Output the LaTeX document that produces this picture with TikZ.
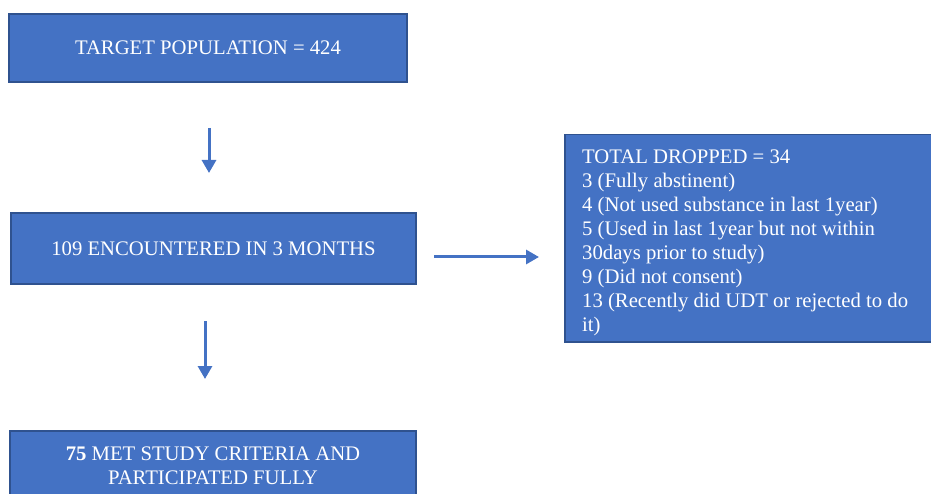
\documentclass[tikz,border=0pt]{standalone}
\usepackage{fontspec}
\setmainfont{Liberation Serif}
\usetikzlibrary{arrows.meta}
\definecolor{boxfill}{HTML}{4472C4}
\definecolor{boxline}{HTML}{2F528F}
\definecolor{arrowc}{HTML}{4472C4}
\tikzset{
  flowbox/.style={draw=boxline, line width=1.5pt, fill=boxfill, text=white,
    font=\fontsize{20.7}{24}\selectfont, inner sep=0pt, align=center},
  flowtext/.style={text=white, font=\fontsize{20.7}{24}\selectfont, inner sep=0pt, align=left},
  flowarrow/.style={draw=arrowc, line width=3pt,
    -{Triangle[length=13pt,width=14pt]}}
}
\begin{document}
\begin{tikzpicture}[x=1pt,y=-1pt]
\useasboundingbox (0,0) rectangle (931,494);
\clip (0,0) rectangle (931,494);
\node[flowbox, minimum width=398pt, minimum height=68pt] (target) at (208,48) {TARGET POPULATION = 424};
\node[flowbox, minimum width=405pt, minimum height=71pt] (enc) at (213.5,248.5) {109 ENCOUNTERED IN 3 MONTHS};
\node[flowbox, minimum width=400pt, minimum height=207pt, anchor=north west] (drop) at (564,134) {};
\node[flowtext, anchor=north west] (droptext) at (582,150) {TOTAL DROPPED = 34\\
3 (Fully abstinent)\\
4 (Not used substance in last 1year)\\
5 (Used in last 1year but not within\\
30days prior to study)\\
9 (Did not consent)\\
13 (Recently did UDT or rejected to do\\
it)};
\node[flowbox, minimum width=406pt, minimum height=69pt] (met) at (213,465.5) {\textbf{75} MET STUDY CRITERIA AND\\PARTICIPATED FULLY};
\coordinate (a1s) at (209,128);
\coordinate (a1e) at (209,173);
\coordinate (a2s) at (434,257);
\coordinate (a2e) at (539,257);
\coordinate (a3s) at (205,321);
\coordinate (a3e) at (205,379);
\draw[flowarrow] (a1s) -- (a1e);
\draw[flowarrow] (a2s) -- (a2e);
\draw[flowarrow] (a3s) -- (a3e);
\end{tikzpicture}
\end{document}
